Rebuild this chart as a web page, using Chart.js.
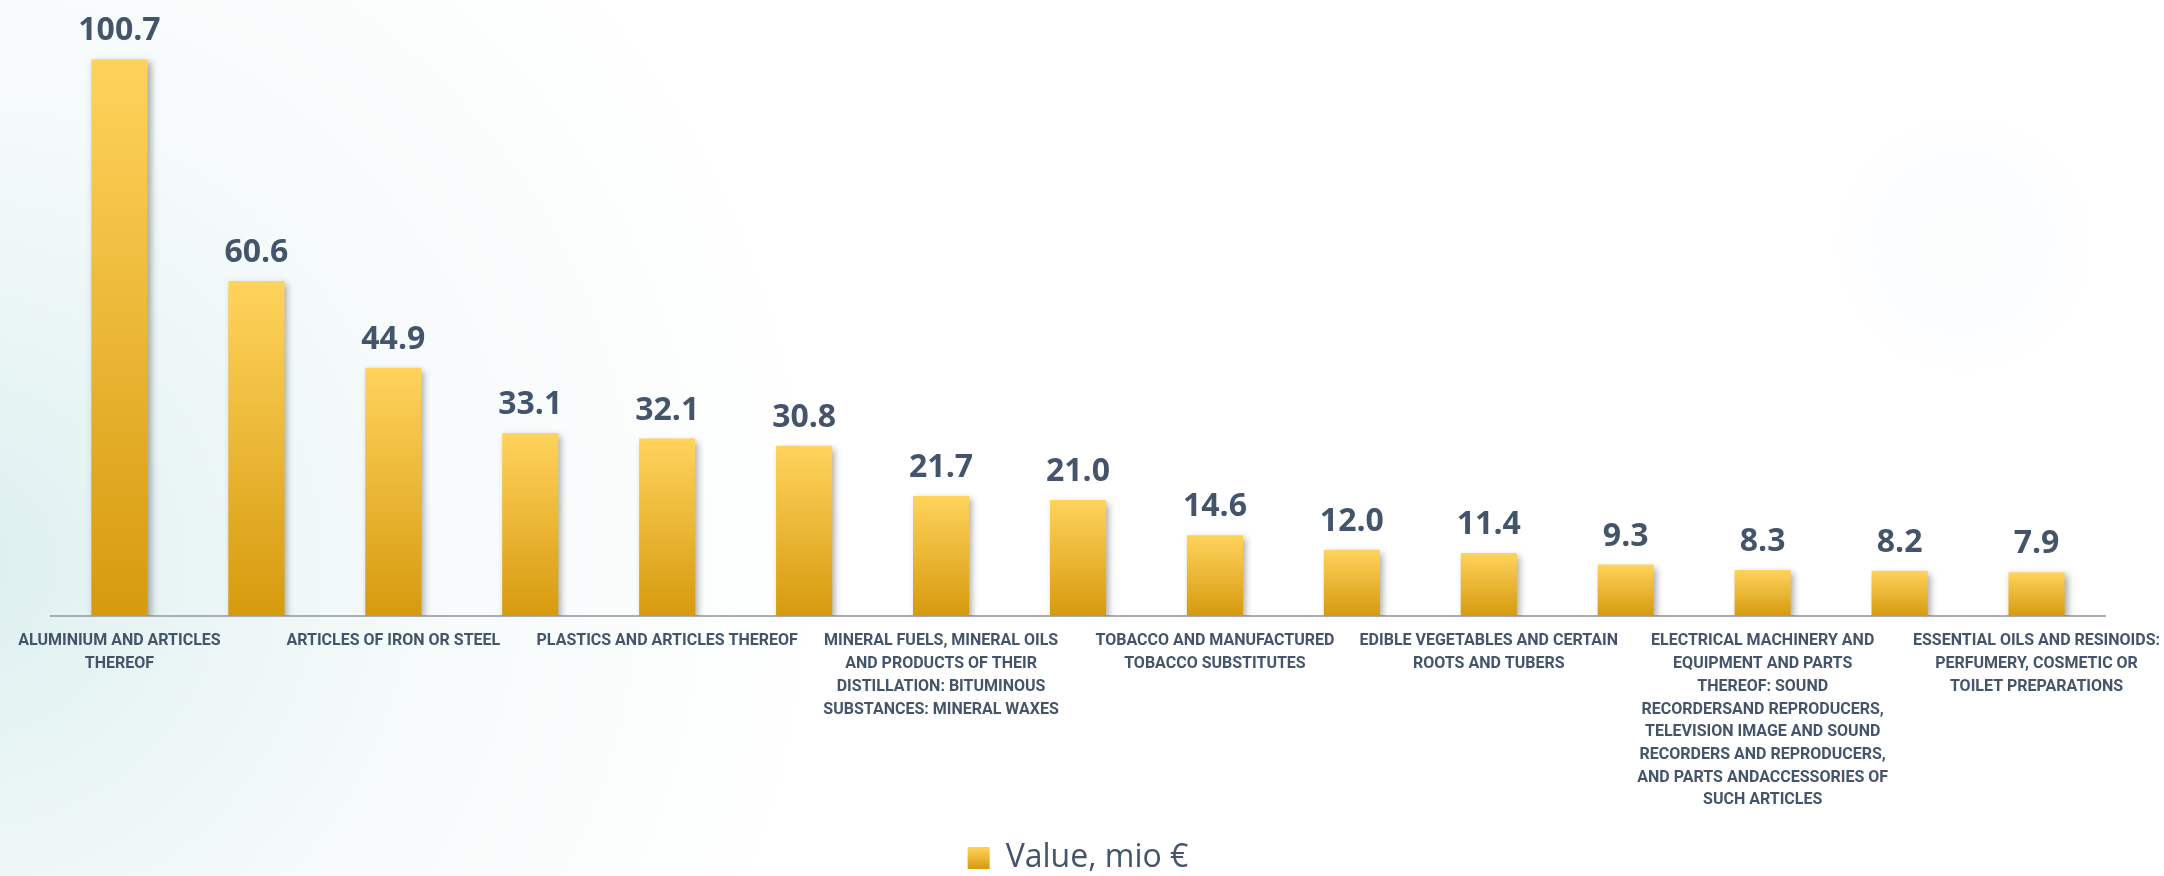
<!DOCTYPE html>
<html>
<head>
<meta charset="utf-8">
<script src="https://cdn.jsdelivr.net/npm/chart.js@4/dist/chart.umd.min.js"></script>
<style>
  html, body { margin: 0; padding: 0; }
  body {
    width: 2164px; height: 876px; overflow: hidden;
    background:
      radial-gradient(circle at 1963px 245px, rgba(250,252,253,0.7) 0, rgba(251,252,254,0.5) 118px, rgba(255,255,255,0) 128px),
      radial-gradient(circle at -40px 560px, rgba(220,239,239,1) 0, rgba(229,243,243,0.9) 190px, rgba(240,247,247,0.6) 470px, rgba(255,255,255,0) 860px),
      #ffffff;
  }
  #wrap { position: absolute; left: 0; top: 0; width: 2164px; height: 876px; }
</style>
</head>
<body>
<div id="wrap"><canvas id="c" width="2164" height="876"></canvas></div>
<script>
// ---- data ----
const categories = [
  ["ALUMINIUM AND ARTICLES", "THEREOF"],
  "",
  ["ARTICLES OF IRON OR STEEL"],
  "",
  ["PLASTICS AND ARTICLES THEREOF"],
  "",
  ["MINERAL FUELS, MINERAL OILS", "AND PRODUCTS OF THEIR", "DISTILLATION: BITUMINOUS", "SUBSTANCES: MINERAL WAXES"],
  "",
  ["TOBACCO AND MANUFACTURED", "TOBACCO SUBSTITUTES"],
  "",
  ["EDIBLE VEGETABLES AND CERTAIN", "ROOTS AND TUBERS"],
  "",
  ["ELECTRICAL MACHINERY AND", "EQUIPMENT AND PARTS", "THEREOF: SOUND", "RECORDERSAND REPRODUCERS,", "TELEVISION IMAGE AND SOUND", "RECORDERS AND REPRODUCERS,", "AND PARTS ANDACCESSORIES OF", "SUCH ARTICLES"],
  "",
  ["ESSENTIAL OILS AND RESINOIDS:", "PERFUMERY, COSMETIC OR", "TOILET PREPARATIONS"]
];
const values = [100.7, 60.6, 44.9, 33.1, 32.1, 30.8, 21.7, 21.0, 14.6, 12.0, 11.4, 9.3, 8.3, 8.2, 7.9];
const seriesName = "Value, mio €";

const TEXT = '#44546A';
const TOP_COL = '#FFD35C';
const BOT_COL = '#D69A0E';

function barGradient(context) {
  const chart = context.chart;
  const area = chart.chartArea;
  if (!area) return TOP_COL;
  const c = chart.ctx;
  if (context.type === 'data') {
    const y = chart.scales.y;
    const top = y.getPixelForValue(context.raw);
    const base = y.getPixelForValue(0);
    const g = c.createLinearGradient(0, top, 0, base);
    g.addColorStop(0, TOP_COL);
    g.addColorStop(1, BOT_COL);
    return g;
  }
  return TOP_COL;
}

const decoPlugin = {
  id: 'deco',
  beforeDatasetsDraw(chart) {
    const ctx = chart.ctx;
    ctx.save();
    ctx.shadowColor = 'rgba(60,60,60,0.45)';
    ctx.shadowBlur = 7;
    ctx.shadowOffsetX = 3;
    ctx.shadowOffsetY = 3;
  },
  afterDatasetsDraw(chart) {
    const ctx = chart.ctx;
    ctx.restore();
    ctx.save();
    ctx.font = 'bold 32px "Open Sans"';
    ctx.fillStyle = TEXT;
    ctx.textAlign = 'center';
    ctx.textBaseline = 'alphabetic';
    const meta = chart.getDatasetMeta(0);
    meta.data.forEach((el, i) => {
      const v = chart.data.datasets[0].data[i];
      ctx.fillText(v.toFixed(1), el.x, el.y - 19);
    });
    ctx.restore();
  },
  beforeDraw(chart) {
    const lg = chart.legend;
    if (lg && lg.legendHitBoxes && lg.legendHitBoxes[0] && lg.legendItems && lg.legendItems[0]) {
      const hb = lg.legendHitBoxes[0];
      const top = hb.top + (hb.height - 22) / 2;
      const g = chart.ctx.createLinearGradient(0, top, 0, top + 22);
      g.addColorStop(0, TOP_COL);
      g.addColorStop(1, BOT_COL);
      lg.legendItems[0].fillStyle = g;
    }
  }
};

new Chart(document.getElementById('c'), {
  type: 'bar',
  data: {
    labels: categories,
    datasets: [{
      label: seriesName,
      data: values,
      backgroundColor: barGradient,
      borderWidth: 0,
      categoryPercentage: 1.0,
      barPercentage: 0.41
    }]
  },
  options: {
    responsive: false,
    animation: false,
    devicePixelRatio: 1,
    layout: { padding: { left: 51, right: 59, top: 8, bottom: -8 } },
    scales: {
      x: {
        grid: { display: false, drawTicks: false },
        border: { display: true, color: '#A9AEB4', width: 2 },
        ticks: {
          autoSkip: false,
          maxRotation: 0,
          minRotation: 0,
          padding: 14,
          color: TEXT,
          font: { family: 'Roboto, "Liberation Sans", sans-serif', size: 16, weight: 'bold', lineHeight: 1.42 }
        },
        afterFit(scale) {
          scale.height = 220;
          scale.paddingLeft = 0;
          scale.paddingRight = 0;
        }
      },
      y: {
        display: false,
        min: 0,
        max: 110,
        grid: { display: false }
      }
    },
    plugins: {
      legend: {
        position: 'bottom',
        labels: {
          boxWidth: 22,
          boxHeight: 22,
          padding: 6,
          color: TEXT,
          font: { family: '"Open Sans", sans-serif', size: 32 }
        }
      },
      tooltip: { enabled: true }
    }
  },
  plugins: [decoPlugin]
});
</script>
</body>
</html>
